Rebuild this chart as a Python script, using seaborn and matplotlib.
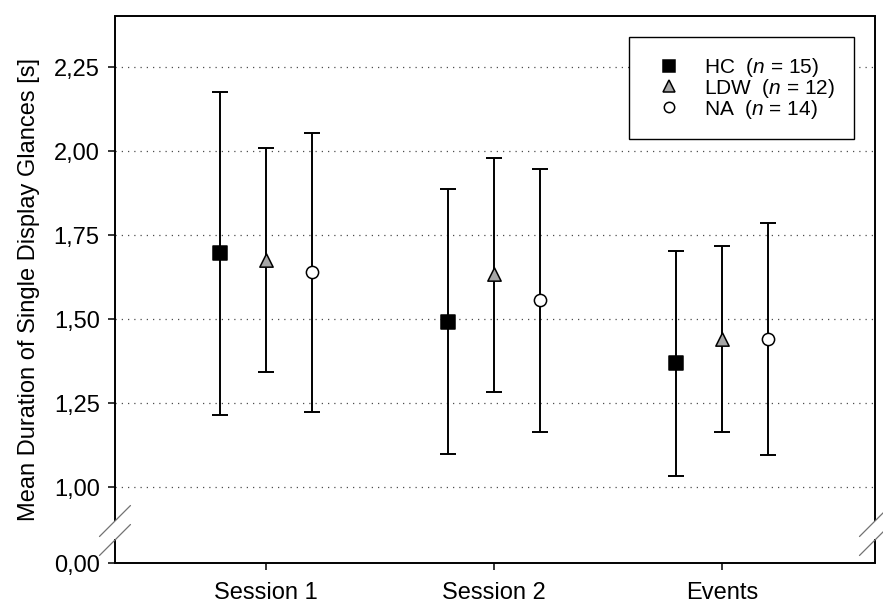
import pandas as pd
import seaborn as sns
import matplotlib.pyplot as plt
from matplotlib.lines import Line2D

# --- Datos ---
sessions = ["Session 1", "Session 2", "Events"]
groups = ["HC", "LDW", "NA"]
group_n = [15, 12, 14]

hc_mean = [1.697, 1.492, 1.368]
hc_low = [1.215, 1.098, 1.034]
hc_high = [2.176, 1.886, 1.703]

ldw_mean = [1.677, 1.634, 1.440]
ldw_low = [1.342, 1.282, 1.163]
ldw_high = [2.008, 1.978, 1.717]

na_mean = [1.639, 1.557, 1.440]
na_low = [1.223, 1.163, 1.095]
na_high = [2.054, 1.946, 1.785]

y_ticks = [1.00, 1.25, 1.50, 1.75, 2.00, 2.25]
zero_label = 0.00

# --- Estilo ---
sns.set_style("ticks")
plt.rcParams["font.family"] = ["Liberation Sans", "DejaVu Sans"]
plt.rcParams["mathtext.fontset"] = "custom"
plt.rcParams["mathtext.rm"] = "Liberation Sans"
plt.rcParams["mathtext.it"] = "Liberation Sans:italic"
plt.rcParams["text.color"] = "black"
plt.rcParams["axes.labelcolor"] = "black"

BREAK_POS = 0.774          # posición donde se dibuja el 0,00 (eje cortado)
OFFSETS = [-0.2, 0.0, 0.2]
markers = {"HC": "s", "LDW": "^", "NA": "o"}
faces = {"HC": "black", "LDW": "#a6a6a6", "NA": "white"}
msizes = {"HC": 9.4, "LDW": 9.6, "NA": 8.8}

means = [hc_mean, ldw_mean, na_mean]
lows = [hc_low, ldw_low, na_low]
highs = [hc_high, ldw_high, na_high]

rows = []
for g, off, m, lo, hi in zip(groups, OFFSETS, means, lows, highs):
    for i, s in enumerate(sessions):
        rows.append({"session": s, "group": g, "x": i + off,
                     "mean": m[i], "low": lo[i], "high": hi[i]})
df = pd.DataFrame(rows)

fig = plt.figure(figsize=(8.83, 6.10), dpi=100)
ax = fig.add_axes([0.1302, 0.0770, 0.8607, 0.8967])

# lineas de rejilla punteadas
for v in y_ticks:
    ax.axhline(v, color="0.3", linestyle=(0, (1, 4)), linewidth=0.9, zorder=0)

# barras de error
for g in groups:
    sub = df[df["group"] == g]
    ax.errorbar(sub["x"], sub["mean"],
                yerr=[sub["mean"] - sub["low"], sub["high"] - sub["mean"]],
                fmt="none", ecolor="black", elinewidth=1.4,
                capsize=5.8, capthick=1.4, zorder=2)

# puntos
for g in groups:
    sub = df[df["group"] == g]
    sns.scatterplot(data=sub, x="x", y="mean", marker=markers[g],
                    color=faces[g], edgecolor="black", linewidth=1.1,
                    s=msizes[g] ** 2, ax=ax, zorder=3, legend=False)

ax.set_xlim(-0.6623, 2.671)
ax.set_ylim(BREAK_POS, 2.4018)
ax.set_xticks(range(len(sessions)))
ax.set_xticklabels(sessions)
ax.set_yticks([BREAK_POS] + y_ticks)
ax.set_yticklabels([f"{v:.2f}".replace(".", ",") for v in [zero_label] + y_ticks])
ax.set_xlabel("")
ax.set_ylabel("Mean Duration of Single Display Glances [s]", fontsize=17,
              labelpad=10, color="black")
ax.tick_params(axis="both", direction="out", length=5, width=1.1,
               labelsize=17, color="black", labelcolor="black")
ax.tick_params(axis="x", pad=9)
ax.tick_params(axis="y", pad=6)

# ejes con corte
for side in ["left", "right"]:
    ax.spines[side].set_visible(False)
for side in ["top", "bottom"]:
    ax.spines[side].set_linewidth(1.4)
    ax.spines[side].set_color("black")

y_lo, y_hi = 0.0439, 0.0768
for xs in [0, 1]:
    ax.plot([xs, xs], [0, y_lo], transform=ax.transAxes, color="black",
            linewidth=1.4, clip_on=False, solid_capstyle="butt")
    ax.plot([xs, xs], [y_hi, 1], transform=ax.transAxes, color="black",
            linewidth=1.4, clip_on=False, solid_capstyle="butt")
    for yc in [y_lo - 0.0018, y_hi]:
        dx = 15.5 / 760
        dy = 15.5 / 547
        ax.plot([xs - dx, xs + dx], [yc - dy, yc + dy], transform=ax.transAxes,
                color="0.45", linewidth=0.9, clip_on=False)

# leyenda
handles = []
labels = []
for g, n in zip(groups, group_n):
    handles.append(Line2D([], [], linestyle="none", marker=markers[g],
                          markerfacecolor=faces[g], markeredgecolor="black",
                          markeredgewidth=1.1, markersize=msizes[g] * 0.85))
    labels.append(f"{g}  ($n$ = {n})")
leg = ax.legend(handles, labels, loc="upper right", bbox_to_anchor=(0.972, 0.9616),
                borderaxespad=0, fontsize=15, frameon=True, fancybox=False,
                edgecolor="black", framealpha=1, borderpad=0.9, handlelength=2.1,
                handletextpad=0.6, labelspacing=-0.1)
leg.get_frame().set_linewidth(1.0)
for t in leg.get_texts():
    t.set_color("black")

fig.savefig("out.png", dpi=100)
